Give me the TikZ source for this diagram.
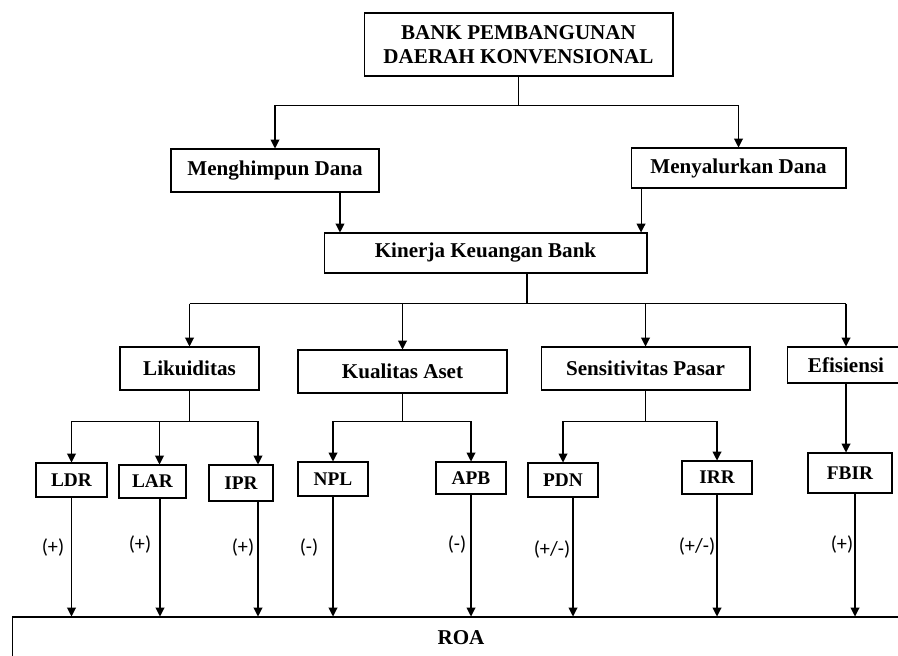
\documentclass[tikz,border=0pt]{standalone}
\usepackage{fontspec}
\setmainfont{Liberation Serif}
\newfontfamily\signfont{Carlito}
\usetikzlibrary{arrows.meta}

\begin{document}
\begin{tikzpicture}[x=0.02cm, y=-0.02cm,
    box/.style={draw, line width=0.6pt, inner sep=0pt, align=center,
        font=\fontsize{12}{14}\selectfont\bfseries},
    small/.style={box, font=\fontsize{11}{13}\selectfont\bfseries},
    arr/.style={line width=0.6pt, -{Triangle[width=5pt, length=5pt]}},
    link/.style={line width=0.6pt},
    sign/.style={font=\signfont\fontsize{11.5}{13}\selectfont, inner sep=0pt}]
    \clip (0, 0) rectangle (898, 655);

    \node [box, minimum width=6.18cm, minimum height=1.26cm] (bank) at (518.5, 44.5)
        {BANK PEMBANGUNAN\\DAERAH KONVENSIONAL};
    \node [box, minimum width=4.16cm, minimum height=0.86cm] (himpun) at (275, 170.5) {Menghimpun Dana};
    \node [box, minimum width=4.3cm, minimum height=0.8cm] (salur) at (738.5, 168) {Menyalurkan Dana};
    \node [box, minimum width=6.46cm, minimum height=0.8cm] (kinerja) at (485.5, 253) {Kinerja Keuangan Bank};

    \node [box, minimum width=2.78cm, minimum height=0.86cm] (likuid) at (189.5, 368.5) {Likuiditas};
    \node [box, minimum width=4.18cm, minimum height=0.86cm] (aset) at (402.5, 371.5) {Kualitas Aset};
    \node [box, minimum width=4.18cm, minimum height=0.86cm] (pasar) at (645.5, 368.5) {Sensitivitas Pasar};
    \node [box, minimum width=2.36cm, minimum height=0.72cm] (efisien) at (846, 365) {Efisiensi};

    \node [small, minimum width=1.42cm, minimum height=0.68cm] (ldr) at (71.5, 480) {LDR};
    \node [small, minimum width=1.34cm, minimum height=0.66cm] (lar) at (152.5, 481.5) {LAR};
    \node [small, minimum width=1.28cm, minimum height=0.72cm] (ipr) at (241, 483) {IPR};
    \node [small, minimum width=1.4cm, minimum height=0.68cm] (npl) at (333, 479) {NPL};
    \node [small, minimum width=1.4cm, minimum height=0.64cm] (apb) at (471, 478) {APB};
    \node [small, minimum width=1.4cm, minimum height=0.68cm] (pdn) at (563, 480) {PDN};
    \node [small, minimum width=1.4cm, minimum height=0.66cm] (irr) at (717, 477.5) {IRR};
    \node [small, minimum width=1.68cm, minimum height=0.8cm] (fbir) at (850, 473) {FBIR};

    \node [box, minimum width=17.96cm, minimum height=0.84cm] (roa) at (461, 638) {ROA};

    \draw [link] (bank.south) -- ++(0, 29) coordinate (jbank);
    \draw [arr] (jbank) -| (himpun.north);
    \draw [arr] (jbank) -| (salur.north);
    \draw [arr] ([xshift=1.3cm]himpun.south) -- ([xshift=1.3cm]himpun.south |- kinerja.north);
    \draw [arr] ([xshift=-1.95cm]salur.south) -- ([xshift=-1.95cm]salur.south |- kinerja.north);

    \draw [link] ([xshift=0.83cm]kinerja.south) -- ++(0, 30) coordinate (jkin);
    \draw [link] (likuid.north |- jkin) -- (efisien.north |- jkin);
    \draw [arr] (likuid.north |- jkin) -- (likuid.north);
    \draw [arr] (aset.north |- jkin) -- (aset.north);
    \draw [arr] (pasar.north |- jkin) -- (pasar.north);
    \draw [arr] (efisien.north |- jkin) -- (efisien.north);

    \draw [link] (likuid.south) -- ++(0, 31) coordinate (jlik);
    \draw [arr] (jlik) -| (ldr.north);
    \draw [arr] (jlik) -| ([xshift=0.14cm]lar.north);
    \draw [arr] (jlik) -| ([xshift=0.34cm]ipr.north);
    \draw [link] (aset.south) -- ++(0, 28) coordinate (jaset);
    \draw [arr] (jaset) -| (npl.north);
    \draw [arr] (jaset) -| (apb.north);
    \draw [link] (pasar.south) -- ++(0, 31) coordinate (jpasar);
    \draw [arr] (jpasar) -| (pdn.north);
    \draw [arr] (jpasar) -| (irr.north);
    \draw [arr] (efisien.south) -- (efisien.south |- fbir.north);

    \draw [arr] (ldr.south) -- (ldr.south |- roa.north);
    \draw [arr] ([xshift=0.15cm]lar.south) -- ([xshift=0.15cm]lar.south |- roa.north);
    \draw [arr] ([xshift=0.34cm]ipr.south) -- ([xshift=0.34cm]ipr.south |- roa.north);
    \draw [arr] (npl.south) -- (npl.south |- roa.north);
    \draw [arr] (apb.south) -- (apb.south |- roa.north);
    \draw [arr] ([xshift=0.2cm]pdn.south) -- ([xshift=0.2cm]pdn.south |- roa.north);
    \draw [arr] (irr.south) -- (irr.south |- roa.north);
    \draw [arr] ([xshift=0.1cm]fbir.south) -- ([xshift=0.1cm]fbir.south |- roa.north);

    \node [sign] (sldr) at (53, 548) {(+)};
    \node [sign] (slar) at (140, 545) {(+)};
    \node [sign] (sipr) at (243, 548) {(+)};
    \node [sign] (snpl) at (309, 548) {(-)};
    \node [sign] (sapb) at (457, 545) {(-)};
    \node [sign] (spdn) at (552, 550) {(+/-)};
    \node [sign] (sirr) at (697, 547) {(+/-)};
    \node [sign] (sfbir) at (842, 545) {(+)};
\end{tikzpicture}
\end{document}
